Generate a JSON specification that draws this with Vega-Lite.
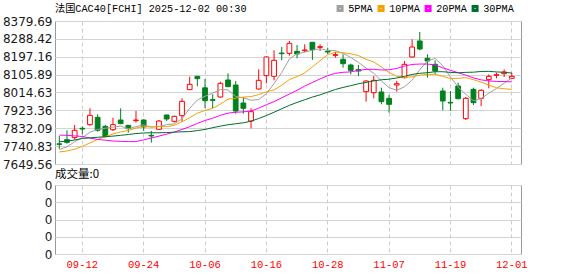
{
  "$schema": "https://vega.github.io/schema/vega-lite/v6.json",
  "background": "white",
  "padding": {"left": 1, "top": 3, "right": 0, "bottom": 0},
  "bounds": "flush",
  "spacing": 21,
  "config": {
    "view": {"stroke": "#9a9a9a", "strokeWidth": 1},
    "axis": {"labelFont": "DejaVu Sans", "labelFontSize": 12, "labelColor": "#1a1a1a", "ticks": false, "domain": false, "gridColor": "#d4d4d4", "gridWidth": 1, "labelOverlap": false}
  },
  "data": {"values": [
    {"d":"09-09","o":7752.5,"h":7792.5,"l":7727.9,"c":7750.0,"ma5":7724,"ma10":7711,"ma20":7797,"ma30":7763,"vol":0},
    {"d":"09-10","o":7773.8,"h":7821.5,"l":7753.4,"c":7760.2,"ma5":7737,"ma10":7716,"ma20":7796,"ma30":7766,"vol":0},
    {"d":"09-11","o":7784.0,"h":7848.7,"l":7773.8,"c":7821.5,"ma5":7763,"ma10":7725,"ma20":7793,"ma30":7772,"vol":0},
    {"d":"09-12","o":7831.7,"h":7841.9,"l":7801.0,"c":7828.3,"ma5":7784,"ma10":7740,"ma20":7790,"ma30":7780,"vol":0},
    {"d":"09-15","o":7850.4,"h":7933.8,"l":7845.3,"c":7898.0,"ma5":7811.6,"ma10":7757,"ma20":7782,"ma30":7783,"vol":0},
    {"d":"09-16","o":7887.8,"h":7903.2,"l":7814.7,"c":7821.5,"ma5":7825.9,"ma10":7775,"ma20":7775,"ma30":7786,"vol":0},
    {"d":"09-17","o":7841.9,"h":7848.7,"l":7784.0,"c":7790.8,"ma5":7832.0,"ma10":7790,"ma20":7771,"ma30":7789,"vol":0},
    {"d":"09-18","o":7824.9,"h":7886.1,"l":7818.1,"c":7850.4,"ma5":7837.8,"ma10":7803,"ma20":7767,"ma30":7792,"vol":0},
    {"d":"09-19","o":7874.2,"h":7933.8,"l":7853.0,"c":7855.5,"ma5":7843.2,"ma10":7813,"ma20":7765,"ma30":7796,"vol":0},
    {"d":"09-22","o":7847.0,"h":7848.0,"l":7809.6,"c":7830.0,"ma5":7829.6,"ma10":7820.6,"ma20":7764,"ma30":7800,"vol":0},
    {"d":"09-23","o":7870.8,"h":7920.2,"l":7860.6,"c":7874.2,"ma5":7840.2,"ma10":7833.0,"ma20":7764,"ma30":7805,"vol":0},
    {"d":"09-24","o":7874.2,"h":7877.6,"l":7818.1,"c":7838.5,"ma5":7849.7,"ma10":7840.9,"ma20":7773,"ma30":7808,"vol":0},
    {"d":"09-25","o":7795.9,"h":7818.1,"l":7758.5,"c":7792.5,"ma5":7838.1,"ma10":7838.0,"ma20":7782,"ma30":7809,"vol":0},
    {"d":"09-26","o":7826.6,"h":7874.2,"l":7824.0,"c":7869.1,"ma5":7840.9,"ma10":7842.1,"ma20":7792,"ma30":7809,"vol":0},
    {"d":"09-29","o":7899.8,"h":7901.0,"l":7869.1,"c":7879.3,"ma5":7850.7,"ma10":7840.2,"ma20":7802,"ma30":7810,"vol":0},
    {"d":"09-30","o":7867.4,"h":7896.3,"l":7860.9,"c":7892.9,"ma5":7854.5,"ma10":7847.3,"ma20":7813,"ma30":7812,"vol":0},
    {"d":"10-01","o":7896.3,"h":7984.8,"l":7865.7,"c":7969.5,"ma5":7880.7,"ma10":7865.2,"ma20":7826,"ma30":7814,"vol":0},
    {"d":"10-02","o":8029.1,"h":8095.5,"l":8027.0,"c":8056.3,"ma5":7933.4,"ma10":7885.8,"ma20":7840,"ma30":7815,"vol":0},
    {"d":"10-03","o":8097.2,"h":8099.0,"l":8046.1,"c":8085.3,"ma5":7976.7,"ma10":7908.8,"ma20":7857,"ma30":7820,"vol":0},
    {"d":"10-06","o":8038.5,"h":8083.5,"l":7935.0,"c":7972.8,"ma5":7995.4,"ma10":7923.0,"ma20":7871.8,"ma30":7826,"vol":0},
    {"d":"10-07","o":7978.0,"h":8005.3,"l":7933.8,"c":7974.6,"ma5":8011.7,"ma10":7933.1,"ma20":7883.1,"ma30":7835,"vol":0},
    {"d":"10-08","o":7991.7,"h":8069.9,"l":7988.3,"c":8061.4,"ma5":8030.1,"ma10":7955.4,"ma20":7898.1,"ma30":7843,"vol":0},
    {"d":"10-09","o":8078.5,"h":8112.5,"l":8042.0,"c":8044.4,"ma5":8027.7,"ma10":7980.6,"ma20":7909.3,"ma30":7850,"vol":0},
    {"d":"10-10","o":8052.9,"h":8073.3,"l":7906.6,"c":7920.2,"ma5":7994.7,"ma10":7985.7,"ma20":7913.9,"ma30":7855,"vol":0},
    {"d":"10-13","o":7961.0,"h":7991.7,"l":7906.6,"c":7933.8,"ma5":7986.9,"ma10":7991.1,"ma20":7915.7,"ma30":7860,"vol":0},
    {"d":"10-14","o":7869.1,"h":7933.8,"l":7831.7,"c":7916.8,"ma5":7975.3,"ma10":7993.5,"ma20":7920.4,"ma30":7868,"vol":0},
    {"d":"10-15","o":8032.5,"h":8132.9,"l":8029.1,"c":8076.8,"ma5":7978.4,"ma10":8004.2,"ma20":7934.7,"ma30":7882,"vol":0},
    {"d":"10-16","o":8100.6,"h":8199.3,"l":8061.4,"c":8195.9,"ma5":8008.7,"ma10":8018.2,"ma20":7952.0,"ma30":7897,"vol":0},
    {"d":"10-17","o":8097.2,"h":8229.9,"l":8076.8,"c":8178.9,"ma5":8060.4,"ma10":8027.6,"ma20":7968.2,"ma30":7914,"vol":0},
    {"d":"10-20","o":8216.3,"h":8246.9,"l":8178.9,"c":8212.9,"ma5":8116.3,"ma10":8051.6,"ma20":7987.3,"ma30":7931.7,"vol":0},
    {"d":"10-21","o":8214.6,"h":8277.6,"l":8202.7,"c":8265.7,"ma5":8186.0,"ma10":8080.7,"ma20":8006.9,"ma30":7948.9,"vol":0},
    {"d":"10-22","o":8224.8,"h":8257.2,"l":8189.1,"c":8211.2,"ma5":8212.9,"ma10":8095.7,"ma20":8025.5,"ma30":7964.0,"vol":0},
    {"d":"10-23","o":8228.2,"h":8260.6,"l":8221.4,"c":8231.6,"ma5":8220.1,"ma10":8114.4,"ma20":8047.5,"ma30":7977.6,"vol":0},
    {"d":"10-24","o":8270.8,"h":8272.0,"l":8180.6,"c":8233.3,"ma5":8230.9,"ma10":8145.7,"ma20":8065.7,"ma30":7991.1,"vol":0},
    {"d":"10-27","o":8245.2,"h":8260.6,"l":8226.5,"c":8248.6,"ma5":8238.1,"ma10":8177.2,"ma20":8084.1,"ma30":8002.8,"vol":0},
    {"d":"10-28","o":8224.8,"h":8243.5,"l":8209.5,"c":8221.4,"ma5":8229.2,"ma10":8207.6,"ma20":8100.6,"ma30":8016.2,"vol":0},
    {"d":"10-29","o":8204.4,"h":8223.1,"l":8192.5,"c":8207.8,"ma5":8228.5,"ma10":8220.7,"ma20":8112.5,"ma30":8030.1,"vol":0},
    {"d":"10-30","o":8184.0,"h":8209.5,"l":8141.4,"c":8161.8,"ma5":8214.6,"ma10":8217.3,"ma20":8117.8,"ma30":8040.4,"vol":0},
    {"d":"10-31","o":8155.0,"h":8161.8,"l":8107.4,"c":8127.8,"ma5":8193.5,"ma10":8212.2,"ma20":8119.9,"ma30":8049.5,"vol":0},
    {"d":"11-03","o":8131.2,"h":8155.0,"l":8098.9,"c":8124.4,"ma5":8168.6,"ma10":8203.4,"ma20":8127.5,"ma30":8059.3,"vol":0},
    {"d":"11-04","o":8018.9,"h":8076.8,"l":7967.8,"c":8073.4,"ma5":8139.0,"ma10":8184.1,"ma20":8132.4,"ma30":8066.0,"vol":0},
    {"d":"11-05","o":8013.8,"h":8098.9,"l":7985.0,"c":8076.8,"ma5":8112.8,"ma10":8170.7,"ma20":8133.2,"ma30":8073.9,"vol":0},
    {"d":"11-06","o":8017.2,"h":8039.3,"l":7954.2,"c":7967.8,"ma5":8074.0,"ma10":8144.3,"ma20":8129.3,"ma30":8079.7,"vol":0},
    {"d":"11-07","o":7984.9,"h":8001.9,"l":7911.7,"c":7954.2,"ma5":8039.3,"ma10":8116.4,"ma20":8131.0,"ma30":8082.6,"vol":0},
    {"d":"11-10","o":8052.9,"h":8073.3,"l":8018.9,"c":8059.7,"ma5":8026.4,"ma10":8097.5,"ma20":8137.3,"ma30":8088.6,"vol":0},
    {"d":"11-11","o":8090.4,"h":8175.5,"l":8087.0,"c":8158.4,"ma5":8043.4,"ma10":8091.2,"ma20":8149.4,"ma30":8097.5,"vol":0},
    {"d":"11-12","o":8195.9,"h":8286.1,"l":8192.5,"c":8246.9,"ma5":8077.4,"ma10":8095.1,"ma20":8157.9,"ma30":8106.7,"vol":0},
    {"d":"11-13","o":8277.6,"h":8323.5,"l":8229.9,"c":8236.7,"ma5":8131.2,"ma10":8102.6,"ma20":8160.0,"ma30":8112.7,"vol":0},
    {"d":"11-14","o":8189.1,"h":8209.5,"l":8090.4,"c":8175.5,"ma5":8175.4,"ma10":8107.4,"ma20":8159.8,"ma30":8115.7,"vol":0},
    {"d":"11-17","o":8158.4,"h":8178.9,"l":8107.4,"c":8124.4,"ma5":8188.4,"ma10":8107.4,"ma20":8155.4,"ma30":8120.8,"vol":0},
    {"d":"11-18","o":8022.3,"h":8039.3,"l":7923.6,"c":7971.2,"ma5":8150.9,"ma10":8097.2,"ma20":8140.6,"ma30":8120.7,"vol":0},
    {"d":"11-19","o":7964.4,"h":8022.3,"l":7920.2,"c":7961.0,"ma5":8093.8,"ma10":8085.6,"ma20":8128.1,"ma30":8117.3,"vol":0},
    {"d":"11-20","o":8047.8,"h":8064.8,"l":7979.8,"c":7983.2,"ma5":8043.1,"ma10":8087.1,"ma20":8115.7,"ma30":8115.3,"vol":0},
    {"d":"11-21","o":7881.0,"h":7991.7,"l":7874.2,"c":7984.9,"ma5":8004.9,"ma10":8090.2,"ma20":8103.3,"ma30":8117.4,"vol":0},
    {"d":"11-24","o":8030.8,"h":8039.3,"l":7950.8,"c":7962.7,"ma5":7972.6,"ma10":8080.5,"ma20":8089.0,"ma30":8118.4,"vol":0},
    {"d":"11-25","o":7984.9,"h":8030.8,"l":7945.7,"c":8025.7,"ma5":7983.5,"ma10":8067.2,"ma20":8079.2,"ma30":8122.0,"vol":0},
    {"d":"11-26","o":8080.2,"h":8107.4,"l":8035.9,"c":8097.2,"ma5":8010.7,"ma10":8052.3,"ma20":8073.7,"ma30":8122.7,"vol":0},
    {"d":"11-27","o":8102.3,"h":8115.9,"l":8087.0,"c":8105.7,"ma5":8035.2,"ma10":8039.2,"ma20":8070.9,"ma30":8119.7,"vol":0},
    {"d":"11-28","o":8110.8,"h":8132.9,"l":8093.8,"c":8119.3,"ma5":8062.1,"ma10":8033.5,"ma20":8070.5,"ma30":8117.7,"vol":0},
    {"d":"12-01","o":8087.0,"h":8115.9,"l":8085.0,"c":8097.2,"ma5":8089.0,"ma10":8030.8,"ma20":8069.1,"ma30":8113.8,"vol":0}
  ]},
  "vconcat": [
    {
      "width": 466,
      "height": 143,
      "title": {"text": "法国CAC40[FCHI] 2025-12-02 00:30", "anchor": "start", "frame": "group", "font": "Liberation Mono, Noto Sans CJK SC", "fontSize": 10.2, "fontWeight": "normal", "color": "#000000", "offset": 1},
      "encoding": {
        "x": {"field": "d", "type": "ordinal", "sort": null,
              "scale": {"type": "band", "paddingInner": 0, "paddingOuter": 0.38, "align": 0.08},
              "axis": {"values": ["09-12","09-24","10-06","10-16","10-28","11-07","11-19","12-01"], "labels": false, "title": null, "grid": true, "gridDash": [4,3], "gridColor": "#cccccc", "bandPosition": 0.5}}
      },
      "layer": [
        {
          "mark": {"type": "rule", "strokeWidth": 1},
          "encoding": {
            "y": {"field": "l", "type": "quantitative",
                  "scale": {"domain": [7649.56, 8379.69], "nice": false, "zero": false},
                  "axis": {"values": [8379.69, 8288.42, 8197.16, 8105.89, 8014.63, 7923.36, 7832.09, 7740.83, 7649.56], "tickCount": 9, "format": ".2f", "title": null, "labelPadding": 3, "grid": true, "labelOverlap": false}},
            "y2": {"field": "h"},
            "color": {"condition": {"test": "datum.c >= datum.o", "value": "#ff0000"}, "value": "#00801e"}
          }
        },
        {
          "mark": {"type": "bar", "width": {"band": 0.62}, "strokeWidth": 1},
          "encoding": {
            "y": {"field": "o", "type": "quantitative"},
            "y2": {"field": "c"},
            "fill": {"condition": {"test": "datum.c >= datum.o", "value": "#ffffff"}, "value": "#00801e"},
            "stroke": {"condition": {"test": "datum.c >= datum.o", "value": "#ff0000"}, "value": "#00801e"}
          }
        },
        {
          "transform": [{"fold": ["ma5", "ma10", "ma20", "ma30"], "as": ["ma", "v"]}],
          "mark": {"type": "line", "strokeWidth": 1},
          "encoding": {
            "y": {"field": "v", "type": "quantitative"},
            "color": {"field": "ma", "type": "nominal",
                      "scale": {"domain": ["ma5", "ma10", "ma20", "ma30"], "range": ["#a0a0a0", "#f5a200", "#ff00ff", "#006e2c"]},
                      "legend": {"orient": "none", "legendX": 280, "legendY": -18, "direction": "horizontal", "title": null,
                                 "labelFont": "Liberation Mono", "labelFontSize": 10.2, "labelColor": "#000000", "labelOffset": 3,
                                 "symbolType": "square", "symbolSize": 16, "symbolStrokeWidth": 3, "columnPadding": 0,
                                 "labelExpr": "{'ma5':'5PMA','ma10':'10PMA','ma20':'20PMA','ma30':'30PMA'}[datum.label]"}}
          }
        }
      ]
    },
    {
      "width": 466,
      "height": 69,
      "title": {"text": "成交量:0", "anchor": "start", "frame": "group", "font": "Noto Sans CJK SC", "fontSize": 11.5, "fontWeight": "normal", "color": "#000000", "offset": -1},
      "mark": {"type": "bar", "color": "#00801e"},
      "encoding": {
        "x": {"field": "d", "type": "ordinal", "sort": null,
              "scale": {"type": "band", "paddingInner": 0, "paddingOuter": 0.38, "align": 0.08},
              "axis": {"values": ["09-12","09-24","10-06","10-16","10-28","11-07","11-19","12-01"], "title": null, "grid": true, "gridDash": [4,3], "gridColor": "#cccccc", "bandPosition": 0.5,
                       "labelColor": "#ff0000", "labelFont": "Liberation Mono", "labelFontSize": 10.5, "labelPadding": 5, "labelAngle": 0}},
        "y": {"field": "vol", "type": "quantitative",
              "scale": {"domain": [0, 1], "nice": false},
              "axis": {"values": [0, 0.25, 0.5, 0.75, 1], "tickCount": 5, "labelExpr": "'0'", "title": null, "labelPadding": 3, "grid": true, "labelOverlap": false}}
      }
    }
  ]
}
